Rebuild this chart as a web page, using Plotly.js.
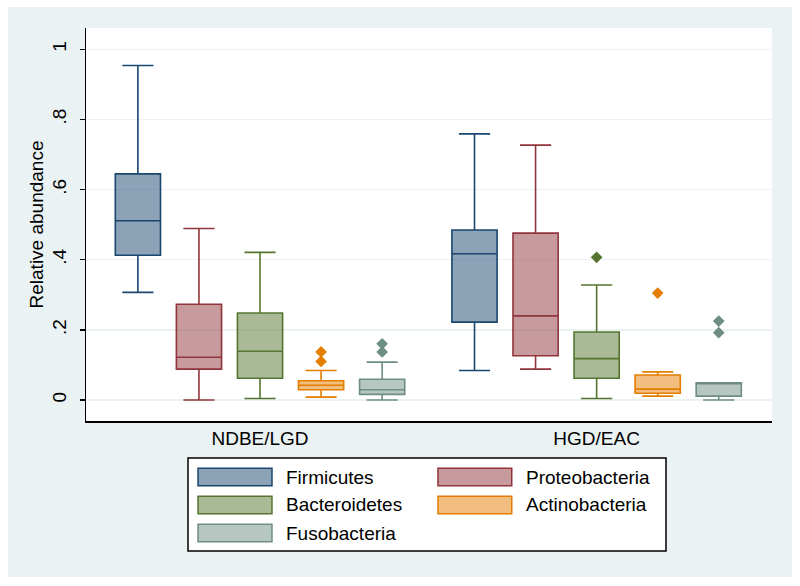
<!DOCTYPE html>
<html>
<head>
<meta charset="utf-8">
<script src="https://cdn.plot.ly/plotly-3.0.1.min.js"></script>
<style>
html,body{margin:0;padding:0;background:#ffffff;}
#chart{position:absolute;left:8px;top:7px;width:784px;height:570px;}
</style>
</head>
<body>
<div id="chart"></div>
<script>
// ---- data ----
const categories = ['NDBE/LGD', 'HGD/EAC'];
const phyla = ['Firmicutes', 'Proteobacteria', 'Bacteroidetes', 'Actinobacteria', 'Fusobacteria'];

const firmicutesLower  = [0.307, 0.084];
const firmicutesQ1     = [0.413, 0.222];
const firmicutesMedian = [0.511, 0.417];
const firmicutesQ3     = [0.645, 0.485];
const firmicutesUpper  = [0.954, 0.759];
const firmicutesOut    = [[], []];

const proteoLower  = [0.000, 0.088];
const proteoQ1     = [0.088, 0.126];
const proteoMedian = [0.122, 0.240];
const proteoQ3     = [0.273, 0.476];
const proteoUpper  = [0.489, 0.727];
const proteoOut    = [[], []];

const bacteroLower  = [0.004, 0.004];
const bacteroQ1     = [0.062, 0.062];
const bacteroMedian = [0.139, 0.118];
const bacteroQ3     = [0.248, 0.194];
const bacteroUpper  = [0.421, 0.328];
const bacteroOut    = [[], [0.407]];

const actinoLower  = [0.008, 0.011];
const actinoQ1     = [0.029, 0.019];
const actinoMedian = [0.042, 0.031];
const actinoQ3     = [0.055, 0.071];
const actinoUpper  = [0.084, 0.080];
const actinoOut    = [[0.110, 0.137], [0.305]];

const fusoLower  = [0.000, 0.000];
const fusoQ1     = [0.016, 0.011];
const fusoMedian = [0.029, 0.048];
const fusoQ3     = [0.059, 0.049];
const fusoUpper  = [0.108, 0.049];
const fusoOut    = [[0.137, 0.160], [0.192, 0.225]];

const yTickVals = [0, 0.2, 0.4, 0.6, 0.8, 1];
const yTickText = ['0', '.2', '.4', '.6', '.8', '1'];

// ---- styling ----
const lineColors = ['#1a476f', '#90353b', '#55752f', '#e37e00', '#6e8e84'];
const fillColors = ['rgba(26,71,111,0.5)', 'rgba(144,53,59,0.5)', 'rgba(85,117,47,0.5)', 'rgba(227,126,0,0.5)', 'rgba(110,142,132,0.5)'];

const stats = [
  [firmicutesLower, firmicutesQ1, firmicutesMedian, firmicutesQ3, firmicutesUpper, firmicutesOut],
  [proteoLower, proteoQ1, proteoMedian, proteoQ3, proteoUpper, proteoOut],
  [bacteroLower, bacteroQ1, bacteroMedian, bacteroQ3, bacteroUpper, bacteroOut],
  [actinoLower, actinoQ1, actinoMedian, actinoQ3, actinoUpper, actinoOut],
  [fusoLower, fusoQ1, fusoMedian, fusoQ3, fusoUpper, fusoOut]
];

// sample points per box: the median (inside the box, never drawn as an outlier) plus the outliers
const traces = phyla.map((name, i) => ({
  type: 'box',
  name: name,
  x: categories,
  y: categories.map((c, j) => [stats[i][2][j]].concat(stats[i][5][j])),
  lowerfence: stats[i][0],
  q1: stats[i][1],
  median: stats[i][2],
  q3: stats[i][3],
  upperfence: stats[i][4],
  offsetgroup: String(i),
  boxpoints: 'outliers',
  jitter: 0,
  pointpos: 0,
  whiskerwidth: 0.69,
  line: {color: lineColors[i], width: 1.6},
  fillcolor: fillColors[i],
  marker: {symbol: 'diamond', size: 9, color: lineColors[i], outliercolor: lineColors[i], line: {width: 0}},
  showlegend: false,
  hoverinfo: 'skip'
}));

const font = 'Arial, "Liberation Sans", sans-serif';
const fs = 19;

// custom Stata-style legend (paper coordinates)
const shapes = [{
  type: 'rect', xref: 'paper', yref: 'paper',
  x0: 0.1487, x1: 0.8455, y0: -0.3308, y1: -0.0941,
  line: {color: '#000000', width: 1.5}, fillcolor: '#ffffff', layer: 'above'
}];
const annotations = [];
const colX = [[0.1633, 0.2711, 0.2886], [0.5131, 0.6206, 0.6385]];
const rowY = [-0.1425, -0.2137, -0.2850];
const swH = 0.0225;
phyla.forEach((name, i) => {
  const c = colX[i % 2], ry = rowY[Math.floor(i / 2)];
  shapes.push({
    type: 'rect', xref: 'paper', yref: 'paper',
    x0: c[0], x1: c[1], y0: ry - swH, y1: ry + swH,
    line: {color: lineColors[i], width: 1.5}, fillcolor: fillColors[i], layer: 'above'
  });
  annotations.push({
    xref: 'paper', yref: 'paper', x: c[2], y: ry, text: name,
    showarrow: false, xanchor: 'left', yanchor: 'middle',
    font: {family: font, size: fs, color: '#000000'}
  });
});

const layout = {
  width: 784, height: 570,
  paper_bgcolor: '#eaf2f3',
  plot_bgcolor: '#ffffff',
  margin: {l: 78, r: 20, t: 21, b: 156},
  font: {family: font, size: fs, color: '#000000'},
  showlegend: false,
  boxmode: 'group',
  boxgap: 0.093,
  boxgroupgap: 0.26,
  xaxis: {
    type: 'category',
    range: [-0.517, 1.521],
    showline: true, linecolor: '#000000', linewidth: 1.5,
    showgrid: false, zeroline: false, ticks: '',
    tickfont: {family: font, size: fs, color: '#000000'}
  },
  yaxis: {
    range: [-0.06, 1.061],
    tickvals: yTickVals, ticktext: yTickText,
    tickangle: -90,
    ticklabelstandoff: 6,
    showline: true, linecolor: '#000000', linewidth: 1.5,
    ticks: 'outside', ticklen: 5, tickwidth: 1.5, tickcolor: '#000000',
    showgrid: true, gridcolor: '#eaf2f3', gridwidth: 1.5,
    zeroline: false,
    tickfont: {family: font, size: fs, color: '#000000'},
    title: {text: 'Relative abundance', font: {family: font, size: fs, color: '#000000'}, standoff: 0}
  },
  shapes: shapes,
  annotations: annotations
};

Plotly.newPlot('chart', traces, layout, {displayModeBar: false, staticPlot: true});
</script>
</body>
</html>
